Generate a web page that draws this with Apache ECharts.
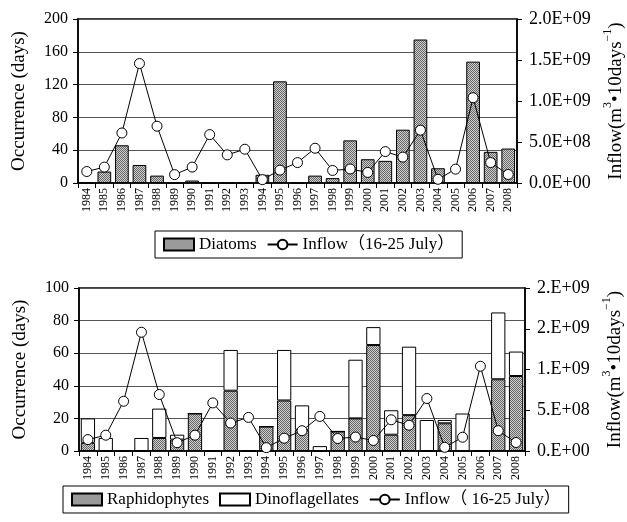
<!DOCTYPE html>
<html>
<head>
<meta charset="utf-8">
<script src="https://cdn.jsdelivr.net/npm/echarts@6/dist/echarts.min.js"></script>
<style>
  html, body { margin: 0; padding: 0; background: #fff; }
  #chart { width: 627px; height: 522px; }
</style>
</head>
<body>
<div id="chart"></div>
<script>
// Years of observation
const years = ['1984','1985','1986','1987','1988','1989','1990','1991','1992','1993','1994','1995','1996',
               '1997','1998','1999','2000','2001','2002','2003','2004','2005','2006','2007','2008'];

// Occurrence of blooms (days)
const diatoms         = [0, 14, 46, 22, 9, 0, 3, 0, 0, 0, 10, 124, 0, 9, 6, 52, 29, 27, 65, 175, 18, 0, 148, 38, 42];
const raphidophytes   = [5, 0, 0, 0, 8, 7, 23, 0, 37, 0, 15, 31, 13, 0, 12, 20, 65, 10, 22, 0, 17, 0, 0, 44, 46];
const dinoflagellates = [15, 8, 0, 8, 18, 3, 0, 0, 25, 0, 0, 31, 15, 3, 0, 36, 11, 15, 42, 19, 2, 23, 0, 41, 15];

// River inflow, 16-25 July (m3 per 10 days)
const inflow = [1.40e8, 1.94e8, 6.10e8, 1.457e9, 6.93e8, 1.02e8, 1.94e8, 5.90e8, 3.43e8, 4.12e8, 4.1e7, 1.57e8, 2.49e8,
                4.24e8, 1.53e8, 1.71e8, 1.29e8, 3.83e8, 3.16e8, 6.44e8, 4.5e7, 1.69e8, 1.040e9, 2.49e8, 1.04e8];

// Right-hand axis tick labels
const inflowTicksTop    = ['0.0E+00', '5.0E+08', '1.0E+09', '1.5E+09', '2.0E+09'];
const inflowTicksBottom = ['0.E+00', '5.E+08', '1.E+09', '2.E+09', '2.E+09'];

const FONT = "'Liberation Serif', 'DejaVu Serif', 'Noto Sans CJK JP', serif";

// Stippled grey fill used for the shaded bars
function makeStipple() {
  const c = document.createElement('canvas');
  c.width = 2; c.height = 2;
  const ctx = c.getContext('2d');
  ctx.fillStyle = '#cfcfcf'; ctx.fillRect(0, 0, 2, 2);
  ctx.fillStyle = '#666666'; ctx.fillRect(0, 0, 1, 1); ctx.fillRect(1, 1, 1, 1);
  return { image: c, repeat: 'repeat' };
}
const stipple = makeStipple();

const chart = echarts.init(document.getElementById('chart'), null, { renderer: 'canvas' });

const rightName = '{t|Inflow(m}{s|3}{t|•10days}{s|−1}{t|)}';
const rightRich = {
  t: { fontFamily: FONT, fontSize: 19, color: '#000', verticalAlign: 'bottom', lineHeight: 24 },
  s: { fontFamily: FONT, fontSize: 12, color: '#000', verticalAlign: 'top', lineHeight: 24 }
};

function xAxisFor(gridIndex) {
  return {
    type: 'category', gridIndex, data: years,
    axisLine: { lineStyle: { color: '#000', width: 1.5 } },
    axisTick: { show: true, length: 5, lineStyle: { color: '#000' } },
    axisLabel: { rotate: 90, fontFamily: FONT, fontSize: 12, color: '#000', margin: 5 }
  };
}

function leftAxis(gridIndex, max, interval) {
  return {
    type: 'value', gridIndex, min: 0, max, interval,
    name: 'Occurrence (days)', nameLocation: 'middle', nameGap: 49, nameRotate: 90,
    nameTextStyle: { fontFamily: FONT, fontSize: 19, color: '#000' },
    axisLine: { show: true, lineStyle: { color: '#000', width: 1.5 } },
    axisTick: { show: true, length: 5, lineStyle: { color: '#000' } },
    axisLabel: { fontFamily: FONT, fontSize: 16, color: '#000', margin: 10 },
    splitLine: { show: true, lineStyle: { color: '#555', width: 1 } }
  };
}

function rightAxis(gridIndex, ticks, gap) {
  return {
    type: 'value', gridIndex, position: 'right', min: 0, max: 2e9, interval: 5e8,
    name: rightName, nameLocation: 'middle', nameGap: gap, nameRotate: 90,
    nameTextStyle: { rich: rightRich },
    axisLine: { show: true, lineStyle: { color: '#000', width: 1.5 } },
    axisTick: { show: true, length: 5, lineStyle: { color: '#000' } },
    axisLabel: {
      fontFamily: FONT, fontSize: 18, color: '#000', margin: 12,
      formatter: (v) => ticks[Math.round(v / 5e8)]
    },
    splitLine: { show: false }
  };
}

const barStyle = { color: stipple, borderColor: '#000', borderWidth: 1 };
const whiteBar = { color: '#fff', borderColor: '#000', borderWidth: 1 };
const lineSeries = (name, xi, yi) => ({
  name, type: 'line', xAxisIndex: xi, yAxisIndex: yi, data: inflow,
  symbol: 'circle', symbolSize: 10, z: 5,
  lineStyle: { color: '#000', width: 1 },
  itemStyle: { color: '#fff', borderColor: '#000', borderWidth: 1 }
});

const legendBase = {
  orient: 'horizontal', borderColor: '#000', borderWidth: 1, borderRadius: 0,
  padding: [5, 8], itemWidth: 30, itemHeight: 12, itemGap: 10,
  textStyle: { fontFamily: FONT, fontSize: 17, color: '#000' }
};

const gridBase = { show: true, borderColor: '#000', borderWidth: 1.5, backgroundColor: 'transparent',
                   containLabel: false, outerBoundsMode: 'none' };

chart.setOption({
  animation: false,
  backgroundColor: '#fff',
  grid: [
    Object.assign({}, gridBase, { left: 78, right: 110, top: 19, height: 164 }),
    Object.assign({}, gridBase, { left: 79, right: 102, top: 288, height: 163 })
  ],
  xAxis: [xAxisFor(0), xAxisFor(1)],
  yAxis: [
    leftAxis(0, 200, 40),
    rightAxis(0, inflowTicksTop, 81),
    leftAxis(1, 100, 20),
    rightAxis(1, inflowTicksBottom, 73)
  ],
  legend: [
    Object.assign({}, legendBase, { left: 155, top: 231,
      data: [{ name: 'Diatoms', icon: 'rect' }, 'Inflow（16-25 July）'] }),
    Object.assign({}, legendBase, { left: 63, top: 486,
      data: [{ name: 'Raphidophytes', icon: 'rect' }, { name: 'Dinoflagellates', icon: 'rect' }, 'Inflow（ 16-25 July）'] })
  ],
  series: [
    { name: 'Diatoms', type: 'bar', xAxisIndex: 0, yAxisIndex: 0, data: diatoms, barCategoryGap: '22%', itemStyle: barStyle },
    lineSeries('Inflow（16-25 July）', 0, 1),
    { name: 'Raphidophytes', type: 'bar', stack: 'bloom', xAxisIndex: 1, yAxisIndex: 2, data: raphidophytes, barCategoryGap: '20%', itemStyle: barStyle },
    { name: 'Dinoflagellates', type: 'bar', stack: 'bloom', xAxisIndex: 1, yAxisIndex: 2, data: dinoflagellates, barCategoryGap: '20%', itemStyle: whiteBar },
    lineSeries('Inflow（ 16-25 July）', 1, 3)
  ]
});
</script>
</body>
</html>
